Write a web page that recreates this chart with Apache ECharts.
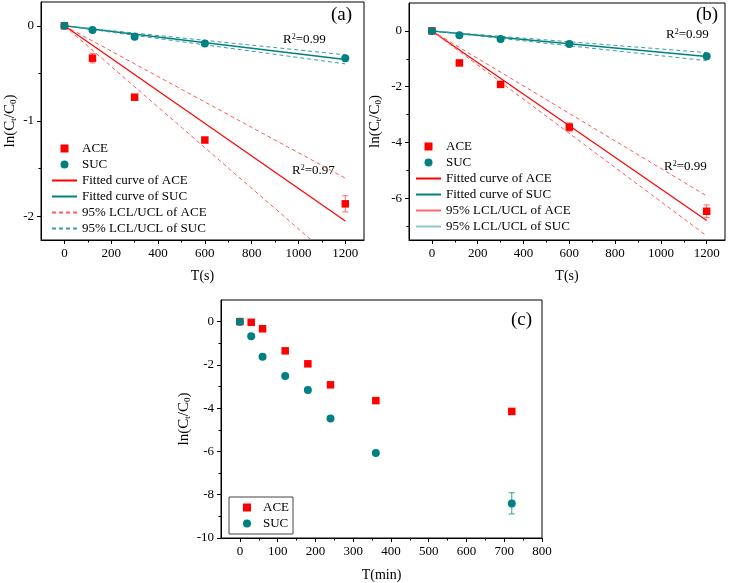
<!DOCTYPE html>
<html>
<head>
<meta charset="utf-8">
<script src="https://cdn.jsdelivr.net/npm/echarts@6/dist/echarts.min.js"></script>
<style>
html,body{margin:0;padding:0;background:#fff;}
#chart{width:732px;height:583px;}
</style>
</head>
<body>
<div id="chart"></div>
<script>
// ---------- Data ----------
// Panel (a)
const aT = [0, 120, 300, 600, 1200];
const aACE = [0, -0.34, -0.75, -1.2, -1.87];
const aACEerr = [0, 0.05, 0, 0, 0.085];
const aSUC = [0, -0.045, -0.115, -0.185, -0.34];
const aSUCerr = [0, 0, 0, 0, 0];
const fitT = [0, 1200];
const aFitACE = [0, -2.05];
const aUclACE = [0, -1.6];
const aLclACE = [0, -2.56];
const aFitSUC = [0, -0.355];
const aUclSUC = [0, -0.305];
const aLclSUC = [0, -0.40];
// Panel (b)
const bT = [0, 120, 300, 600, 1200];
const bACE = [0, -1.15, -1.92, -3.45, -6.47];
const bACEerr = [0, 0, 0, 0.15, 0.23];
const bSUC = [0, -0.16, -0.29, -0.47, -0.91];
const bSUCerr = [0, 0, 0, 0, 0];
const bFitACE = [0, -6.8];
const bUclACE = [0, -5.92];
const bLclACE = [0, -7.35];
const bFitSUC = [0, -0.92];
const bUclSUC = [0, -0.78];
const bLclSUC = [0, -1.07];
// Panel (c)
const cT = [0, 30, 60, 120, 180, 240, 360, 720];
const cACE = [0, -0.03, -0.33, -1.35, -1.95, -2.92, -3.65, -4.15];
const cACEerr = [0, 0, 0, 0, 0, 0, 0, 0];
const cSUC = [0, -0.68, -1.62, -2.51, -3.16, -4.48, -6.07, -8.4];
const cSUCerr = [0, 0, 0, 0, 0, 0, 0, 0.49];
// Tick labels
const abXLabels = [0, 200, 400, 600, 800, 1000, 1200];
const abXMinor = [100, 300, 500, 700, 900, 1100];
const aYLabels = [-2, -1, 0];
const aYMinor = [-1.5, -0.5];
const bYLabels = [-6, -4, -2, 0];
const bYMinor = [-7, -5, -3, -1];
const cXLabels = [0, 100, 200, 300, 400, 500, 600, 700, 800];
const cXMinor = [50, 150, 250, 350, 450, 550, 650, 750];
const cYLabels = [-10, -8, -6, -4, -2, 0];
const cYMinor = [-9, -7, -5, -3, -1];

const NAMES = {
  ace: 'ACE', suc: 'SUC',
  fitAce: 'Fitted curve of ACE', fitSuc: 'Fitted curve of SUC',
  ciAce: '95% LCL/UCL of ACE', ciSuc: '95% LCL/UCL of SUC'
};

// ---------- Styles ----------
const FONT = '"Liberation Serif", "Times New Roman", serif';
const RED = '#ff0000';
const TEAL = '#008080';
const RED_D = '#ff5a5a';
const TEAL_D = '#3a9e9e';
const SQUARE = 'path://M0,0H10V10H0Z';

const zip = (xs, ys) => xs.map((x, i) => [x, ys[i]]);
const plain = v => String(v);

function mainX(grid, min, max, labels, name, gap) {
  return {
    type: 'value', gridIndex: grid, position: 'bottom', min: min, max: max,
    name: name, nameLocation: 'middle', nameGap: gap,
    nameTextStyle: {fontFamily: FONT, fontSize: 14, color: '#000'},
    axisLine: {show: true, onZero: false, lineStyle: {color: '#000', width: 1}},
    axisTick: {show: true, inside: false, length: 4, customValues: labels, lineStyle: {color: '#000'}},
    axisLabel: {show: true, customValues: labels, formatter: plain, fontFamily: FONT, fontSize: 13, color: '#000', margin: 7},
    splitLine: {show: false}
  };
}
function minorX(grid, min, max, ticks) {
  return {
    type: 'value', gridIndex: grid, position: 'bottom', min: min, max: max,
    axisLine: {show: false, onZero: false},
    axisTick: {show: true, inside: false, length: 2.5, customValues: ticks, lineStyle: {color: '#000'}},
    axisLabel: {show: false}, splitLine: {show: false}
  };
}
const yName = 'ln(C{s|t}/C{s|0})';
function mainY(grid, min, max, labels, gap) {
  return {
    type: 'value', gridIndex: grid, position: 'left', min: min, max: max,
    name: yName, nameLocation: 'middle', nameGap: gap,
    nameTextStyle: {fontFamily: FONT, fontSize: 15, color: '#000',
      rich: {s: {fontFamily: FONT, fontSize: 9, color: '#000', verticalAlign: 'bottom', padding: [7, 0, 0, 0]}}},
    axisLine: {show: true, onZero: false, lineStyle: {color: '#000', width: 1}},
    axisTick: {show: true, inside: false, length: 4, customValues: labels, lineStyle: {color: '#000'}},
    axisLabel: {show: true, customValues: labels, formatter: plain, fontFamily: FONT, fontSize: 13, color: '#000', margin: 7},
    splitLine: {show: false}
  };
}
function minorY(grid, min, max, ticks) {
  return {
    type: 'value', gridIndex: grid, position: 'left', min: min, max: max,
    axisLine: {show: false, onZero: false},
    axisTick: {show: true, inside: false, length: 2.5, customValues: ticks, lineStyle: {color: '#000'}},
    axisLabel: {show: false}, splitLine: {show: false}
  };
}

function scatter(name, ax, xs, ys, symbol, color) {
  return {type: 'scatter', name: name, xAxisIndex: ax, yAxisIndex: ax,
    data: zip(xs, ys), symbol: symbol, symbolSize: symbol === 'rect' ? 7.5 : 8,
    itemStyle: {color: color, opacity: 1}, z: 5, silent: true};
}
function line(name, ax, xs, ys, color, dashed, width) {
  return {type: 'line', name: name, xAxisIndex: ax, yAxisIndex: ax,
    data: zip(xs, ys), symbol: 'none', showSymbol: false, clip: true,
    lineStyle: {color: color, width: width, type: dashed ? [4, 3] : 'solid'},
    itemStyle: {color: color}, z: 3, silent: true, animation: false};
}
function errorBars(ax, xs, ys, errs, color) {
  const d = xs.map((x, i) => [x, ys[i], errs[i]]).filter(r => r[2] > 0);
  return {
    type: 'custom', xAxisIndex: ax, yAxisIndex: ax, data: d, z: 4, silent: true,
    renderItem: function (params, api) {
      const x = api.value(0), y = api.value(1), e = api.value(2);
      const t = api.coord([x, y + e]), b = api.coord([x, y - e]);
      const w = 3;
      const st = {stroke: color, lineWidth: 1};
      return {type: 'group', children: [
        {type: 'line', shape: {x1: t[0], y1: t[1], x2: b[0], y2: b[1]}, style: st},
        {type: 'line', shape: {x1: t[0] - w, y1: t[1], x2: t[0] + w, y2: t[1]}, style: st},
        {type: 'line', shape: {x1: b[0] - w, y1: b[1], x2: b[0] + w, y2: b[1]}, style: st}
      ]};
    }
  };
}

const legendBase = {
  orient: 'vertical', itemWidth: 25, itemHeight: 8, itemGap: 3,
  symbolKeepAspect: true,
  textStyle: {fontFamily: FONT, fontSize: 13, color: '#000'},
  selectedMode: false, padding: 0
};
const rText = (left, top, text) => ({type: 'text', left: left, top: top,
  style: {text: text, font: '13px ' + FONT, fill: '#000',
    rich: {p: {fontFamily: FONT, fontSize: 8, verticalAlign: 'top', padding: [0, 0, 6, 0]}}}});

const option = {
  backgroundColor: '#fff',
  animation: false,
  grid: [
    {left: 41, top: 2, width: 323, height: 238, show: true, borderColor: '#000', borderWidth: 1, backgroundColor: 'transparent'},
    {left: 409, top: 3, width: 316, height: 237, show: true, borderColor: '#000', borderWidth: 1, backgroundColor: 'transparent'},
    {left: 221, top: 300, width: 321, height: 238, show: true, borderColor: '#000', borderWidth: 1, backgroundColor: 'transparent'}
  ],
  xAxis: [
    mainX(0, -100, 1280, abXLabels, 'T(s)', 29),
    minorX(0, -100, 1280, abXMinor),
    mainX(1, -100, 1280, abXLabels, 'T(s)', 29),
    minorX(1, -100, 1280, abXMinor),
    mainX(2, -50, 800, cXLabels, 'T(min)', 30),
    minorX(2, -50, 800, cXMinor)
  ],
  yAxis: [
    mainY(0, -2.25, 0.25, aYLabels, 23),
    minorY(0, -2.25, 0.25, aYMinor),
    mainY(1, -7.5, 1, bYLabels, 26),
    minorY(1, -7.5, 1, bYMinor),
    mainY(2, -10, 1, cYLabels, 29),
    minorY(2, -10, 1, cYMinor)
  ],
  legend: [
    Object.assign({}, legendBase, {
      left: 51, top: 142,
      data: [
        {name: NAMES.ace, icon: SQUARE}, {name: NAMES.suc, icon: 'circle'},
        {name: NAMES.fitAce, itemStyle: {opacity: 0}},
        {name: NAMES.fitSuc, itemStyle: {opacity: 0}},
        {name: NAMES.ciAce, itemStyle: {opacity: 0}},
        {name: NAMES.ciSuc, itemStyle: {opacity: 0}}
      ]
    }),
    Object.assign({}, legendBase, {
      left: 415, top: 140,
      data: [
        {name: NAMES.ace, icon: SQUARE}, {name: NAMES.suc, icon: 'circle'},
        {name: NAMES.fitAce, itemStyle: {opacity: 0}},
        {name: NAMES.fitSuc, itemStyle: {opacity: 0}, lineStyle: {width: 2}},
        {name: NAMES.ciAce, itemStyle: {opacity: 0}, lineStyle: {type: 'solid', color: '#ff6a6a'}},
        {name: NAMES.ciSuc, itemStyle: {opacity: 0}, lineStyle: {type: 'solid', color: '#8cc8c8'}}
      ]
    }),
    Object.assign({}, legendBase, {
      left: 229, top: 497, itemWidth: 22,
      padding: [4, 4, 4, 14], borderColor: '#444', borderWidth: 1,
      data: [{name: NAMES.ace, icon: SQUARE}, {name: NAMES.suc, icon: 'circle'}]
    })
  ],
  graphic: [
    {type: 'text', left: 331, top: 6, style: {text: '(a)', font: '19px ' + FONT, fill: '#000'}},
    {type: 'text', left: 696, top: 6, style: {text: '(b)', font: '19px ' + FONT, fill: '#000'}},
    {type: 'text', left: 511, top: 311, style: {text: '(c)', font: '19px ' + FONT, fill: '#000'}},
    rText(283, 33, 'R{p|2}=0.99'),
    rText(292, 164, 'R{p|2}=0.97'),
    rText(666, 28, 'R{p|2}=0.99'),
    rText(664, 160, 'R{p|2}=0.99')
  ],
  series: [
    // Panel (a)
    scatter(NAMES.ace, 0, aT, aACE, 'rect', RED),
    scatter(NAMES.suc, 0, aT, aSUC, 'circle', TEAL),
    line(NAMES.fitAce, 0, fitT, aFitACE, RED, false, 1.2),
    line(NAMES.fitSuc, 0, fitT, aFitSUC, TEAL, false, 1.5),
    line(NAMES.ciAce, 0, fitT, aUclACE, RED_D, true, 1),
    line(NAMES.ciAce, 0, fitT, aLclACE, RED_D, true, 1),
    line(NAMES.ciSuc, 0, fitT, aUclSUC, TEAL_D, true, 1),
    line(NAMES.ciSuc, 0, fitT, aLclSUC, TEAL_D, true, 1),
    errorBars(0, aT, aACE, aACEerr, '#ff6a6a'),
    errorBars(0, aT, aSUC, aSUCerr, TEAL_D),
    // Panel (b)
    scatter(NAMES.ace, 2, bT, bACE, 'rect', RED),
    scatter(NAMES.suc, 2, bT, bSUC, 'circle', TEAL),
    line(NAMES.fitAce, 2, fitT, bFitACE, RED, false, 1.2),
    line(NAMES.fitSuc, 2, fitT, bFitSUC, TEAL, false, 1.5),
    line(NAMES.ciAce, 2, fitT, bUclACE, RED_D, true, 1),
    line(NAMES.ciAce, 2, fitT, bLclACE, RED_D, true, 1),
    line(NAMES.ciSuc, 2, fitT, bUclSUC, TEAL_D, true, 1),
    line(NAMES.ciSuc, 2, fitT, bLclSUC, TEAL_D, true, 1),
    errorBars(2, bT, bACE, bACEerr, '#ff6a6a'),
    errorBars(2, bT, bSUC, bSUCerr, TEAL_D),
    // Panel (c)
    scatter(NAMES.ace, 4, cT, cACE, 'rect', RED),
    scatter(NAMES.suc, 4, cT, cSUC, 'circle', TEAL),
    errorBars(4, cT, cACE, cACEerr, '#ff6a6a'),
    errorBars(4, cT, cSUC, cSUCerr, TEAL_D)
  ]
};

const chart = echarts.init(document.getElementById('chart'), null, {renderer: 'canvas'});
chart.setOption(option);
</script>
</body>
</html>
